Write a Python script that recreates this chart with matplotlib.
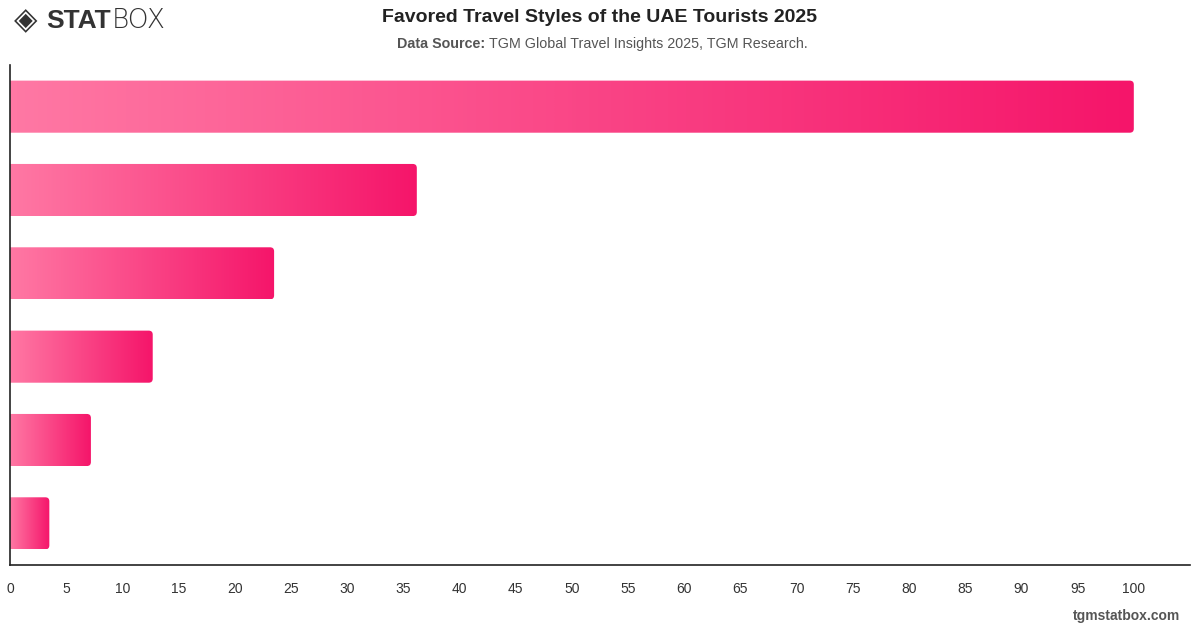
import matplotlib
matplotlib.use("Agg")
import matplotlib.pyplot as plt
import numpy as np
from matplotlib.patches import FancyBboxPatch
from matplotlib.colors import LinearSegmentedColormap

plt.rcParams["font.family"] = ["Liberation Sans", "DejaVu Sans"]

# travel styles (no category labels shown on the chart), top to bottom
styles = ["Style 1", "Style 2", "Style 3", "Style 4", "Style 5", "Style 6"]
values = [100, 36.2, 23.5, 12.7, 7.2, 3.5]
xticks = list(range(0, 101, 5))

cmap = LinearSegmentedColormap.from_list("pinkgrad", ["#ff78a4", "#f5156a"])

fig = plt.figure(figsize=(12, 6.28), dpi=100)
ax = fig.add_axes([10 / 1200, 63 / 628, 1180 / 1200, 500 / 628])

ypos = np.arange(len(styles))
bars = ax.barh(ypos, values, height=0.625, color="none", edgecolor="none")

# gradient fill per bar, clipped to a box rounded on the right end
grad = np.linspace(0, 1, 256).reshape(1, -1)
for b in bars:
    x0, y0 = b.get_x(), b.get_y()
    w, h = b.get_width(), b.get_height()
    clip = FancyBboxPatch((x0 - 2, y0), w + 2, h,
                          boxstyle="round,pad=0,rounding_size=0.36",
                          mutation_aspect=0.133, transform=ax.transData,
                          facecolor="none", edgecolor="none")
    ax.add_patch(clip)
    im = ax.imshow(grad, cmap=cmap, aspect="auto", extent=(x0, x0 + w, y0 + h, y0),
                   interpolation="bicubic", zorder=2)
    im.set_clip_path(clip)
ax.set_xlim(0, 105)
ax.set_ylim(len(styles) - 0.5, -0.5)

ax.set_xticks(xticks)
ax.set_xticklabels([str(t) for t in xticks])
ax.set_yticks([])
ax.tick_params(axis="x", length=0, pad=12, labelsize=10, labelcolor="#333333")
for s in ["top", "right"]:
    ax.spines[s].set_visible(False)
for s in ["left", "bottom"]:
    ax.spines[s].set_color("#222222")
    ax.spines[s].set_linewidth(1.2)

fig.text(0.5, 1 - 17 / 628, "Favored Travel Styles of the UAE Tourists 2025",
         ha="center", va="center", fontsize=14, fontweight="bold", color="#222222")
fig.text(485 / 1200, 1 - 44 / 628, "Data Source:", ha="right", va="center",
         fontsize=10.3, fontweight="bold", color="#555555")
fig.text(489 / 1200, 1 - 44 / 628, "TGM Global Travel Insights 2025, TGM Research.",
         ha="left", va="center", fontsize=10.3, color="#555555")

# logo
fig.text(14 / 1200, 1 - 21 / 628, "◈", ha="left", va="center", fontsize=22,
         fontweight="bold", color="#333333", family="DejaVu Sans")
stat = fig.text(46 / 1200, 1 - 21 / 628, "STAT", ha="left", va="center", fontsize=19,
                fontweight="bold", color="#333333")
fig.canvas.draw()
bb = stat.get_window_extent()
fig.text(bb.x1 / 1200 + 0.001, 1 - 21 / 628, "BOX", ha="left", va="center", fontsize=19,
         color="#333333", family="DejaVu Sans", fontweight="light")

fig.text(1180 / 1200, 1 - 616 / 628, "tgmstatbox.com", ha="right", va="center",
         fontsize=10, fontweight="bold", color="#555555")

fig.savefig("out.png", dpi=100)
